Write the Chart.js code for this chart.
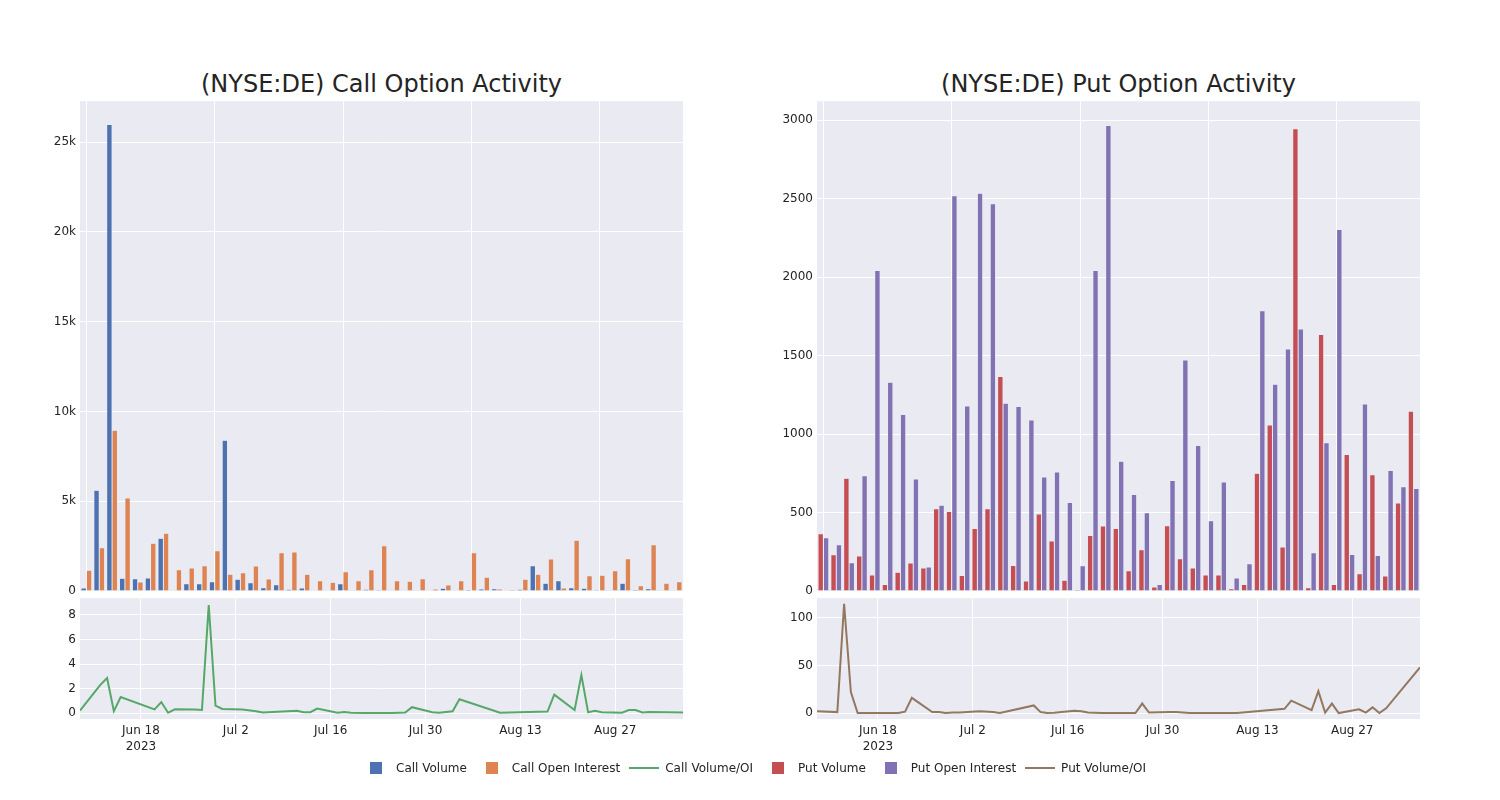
<!DOCTYPE html>
<html>
<head>
<meta charset="utf-8">
<script src="https://cdn.jsdelivr.net/npm/chart.js@4.4.0/dist/chart.umd.min.js"></script>
<style>
  body { margin: 0; background: #fff; width: 1500px; height: 800px; position: relative; overflow: hidden;
         font-family: "DejaVu Sans", sans-serif; color: rgb(36,36,36); }
  canvas { position: absolute; }
  .title { position: absolute; top: 69px; width: 603px; height: 30px; line-height: 30px; font-size: 24px; text-align: center; }
  #legend { position: absolute; left: 356px; top: 760px; height: 16px; display: flex; font-size: 12px; line-height: 16px; }
  .item { display: flex; align-items: center; margin-right: 5px; white-space: nowrap; }
  .mark { width: 40px; height: 16px; position: relative; }
  .mark .box { position: absolute; left: 14px; top: 2px; width: 12px; height: 12px; }
  .mark .line { position: absolute; left: 4px; top: 7px; width: 30px; height: 2px; }
</style>
</head>
<body>
<div class="title" style="left:80px">(NYSE:DE) Call Option Activity</div>
<div class="title" style="left:817px">(NYSE:DE) Put Option Activity</div>
<canvas id="callBars" width="683" height="513" style="left:0;top:90px"></canvas>
<canvas id="callRatioChart" width="683" height="177" style="left:0;top:587px"></canvas>
<canvas id="putBars" width="683" height="513" style="left:737px;top:90px"></canvas>
<canvas id="putRatioChart" width="683" height="177" style="left:737px;top:587px"></canvas>
<div id="legend"></div>
<script>
// trading days in the data
var dates = ['2023-06-09','2023-06-12','2023-06-13','2023-06-14','2023-06-15','2023-06-20','2023-06-21','2023-06-22',
  '2023-06-23','2023-06-26','2023-06-27','2023-06-28','2023-06-29','2023-06-30','2023-07-03','2023-07-05','2023-07-06',
  '2023-07-11','2023-07-12','2023-07-13','2023-07-14','2023-07-17','2023-07-18','2023-07-19','2023-07-21','2023-07-25',
  '2023-07-26','2023-07-27','2023-07-28','2023-07-31','2023-08-01','2023-08-03','2023-08-04','2023-08-10','2023-08-17',
  '2023-08-18','2023-08-21','2023-08-22','2023-08-23','2023-08-24','2023-08-25','2023-08-28','2023-08-29','2023-08-30',
  '2023-08-31','2023-09-01','2023-09-06'];

var callVolume = [167,5608,25980,706,687,724,2934,30,408,408,520,8394,650,464,186,353,93,167,37,37,408,19,93,56,0,0,15,0,
  149,37,74,111,130,0,93,1411,427,576,186,149,56,19,427,74,130,37,19];
var callOpenInterest = [1151,2414,8951,5181,501,2656,3213,1188,1281,1411,2247,928,1021,1393,668,2136,2173,928,576,483,1077,
  576,1188,2526,576,539,687,111,334,576,2136,761,111,74,650,928,1783,167,2823,854,873,1133,1801,297,2581,427,520];
var callRatio = [0.2,2.3,2.85,0.15,1.3,0.3,0.9,0.02,0.3,0.28,0.25,8.8,0.6,0.33,0.28,0.15,0.04,0.18,0.06,0.07,0.36,0.03,0.08,
  0.02,0,0,0.02,0.05,0.48,0.06,0.03,0.15,1.12,0.03,0.12,1.5,0.25,3.1,0.06,0.18,0.06,0.03,0.24,0.25,0.05,0.09,0.04];

var putVolume = [365,231,719,223,102,42,119,178,146,524,507,98,399,524,1366,163,64,490,318,68,8,354,414,399,129,263,25,416,
  206,146,102,102,15,42,751,1058,280,2945,21,1635,42,870,110,740,95,560,1145];
var putOpenInterest = [339,295,180,734,2043,1330,1124,713,153,547,2518,1179,2535,2468,1196,1175,1090,727,759,564,161,2043,
  2966,827,615,498,42,704,1472,927,448,694,83,174,1786,1317,1542,1670,244,944,2304,233,1192,227,768,664,653];
var putRatio = [2,1,115,22,0,0,0,1.5,16,1,1,0,0.5,0.5,2,1,0,8,1,0,0.3,2.5,2,0.5,0,0,0,10,0.5,1,1,0,0,0,4.5,13,3,23,0.5,10,
  0,4,0.5,6,0,5,48];

// tick labels
var xTickDates = ['2023-06-18','2023-07-02','2023-07-16','2023-07-30','2023-08-13','2023-08-27'];
var xTickLabels = [['Jun 18','2023'],'Jul 2','Jul 16','Jul 30','Aug 13','Aug 27'];
var callBarTicks = [0,5000,10000,15000,20000,25000];
var callRatioTicks = [0,2,4,6,8];
var putBarTicks = [0,500,1000,1500,2000,2500,3000];
var putRatioTicks = [0,50,100];

var colors = { callVol: '#4C72B0', callOI: '#DD8452', callRatio: '#55A868', putVol: '#C44E52', putOI: '#8172B3', putRatio: '#937860' };
var textColor = 'rgb(36,36,36)';

Chart.defaults.font.family = '"DejaVu Sans", sans-serif';
Chart.defaults.font.size = 12;
Chart.defaults.color = textColor;

function dayOf(d) { return (Date.parse(d) - Date.parse(dates[0])) / 86400000; }
var days = dates.map(dayOf);

var plotBg = {
  id: 'plotBg',
  beforeDraw: function (chart) {
    var a = chart.chartArea, ctx = chart.ctx;
    ctx.save();
    ctx.fillStyle = '#EAEAF2';
    ctx.fillRect(a.left, a.top, a.right - a.left, a.bottom - a.top);
    ctx.restore();
  }
};

function yAxis(min, max, ticks, fmt) {
  return {
    min: min, max: max,
    afterFit: function (s) { s.width = 80; },
    afterBuildTicks: function (s) { s.ticks = ticks.map(function (v) { return { value: v }; }); },
    ticks: { padding: 4, callback: fmt },
    grid: { color: '#fff', lineWidth: 1, drawTicks: false },
    border: { display: false }
  };
}

function barChart(id, labels, sets, yMax, ticks, fmt) {
  new Chart(document.getElementById(id), {
    type: 'bar',
    data: { labels: labels, datasets: sets.map(function (s) {
      return { label: s.label, data: s.data, backgroundColor: s.color, borderColor: '#EAEAF2', borderWidth: 0.5,
               categoryPercentage: 0.84, barPercentage: 1.0 };
    }) },
    options: {
      responsive: false, animation: false,
      layout: { padding: { top: 10 } },
      plugins: { legend: { display: false }, tooltip: { enabled: false } },
      scales: {
        x: {
          afterFit: function (s) { s.height = 12; },
          afterBuildTicks: function (s) { s.ticks = s.ticks.filter(function (t, i) { return i % 10 === 0; }); },
          ticks: { display: false },
          grid: { color: '#fff', offset: false, drawTicks: false },
          border: { display: false }
        },
        y: yAxis(0, yMax, ticks, fmt)
      }
    },
    plugins: [plotBg]
  });
}

function ratioChart(id, label, values, color, yMin, yMax, ticks) {
  new Chart(document.getElementById(id), {
    type: 'line',
    data: { datasets: [{ label: label, data: days.map(function (x, i) { return { x: x, y: values[i] }; }),
      borderColor: color, backgroundColor: color, borderWidth: 2, pointRadius: 0, tension: 0 }] },
    options: {
      responsive: false, animation: false,
      layout: { padding: { top: 10 } },
      plugins: { legend: { display: false }, tooltip: { enabled: false } },
      scales: {
        x: {
          type: 'linear', min: 0, max: days[days.length - 1],
          afterFit: function (s) { s.height = 45; },
          afterBuildTicks: function (s) { s.ticks = xTickDates.map(function (d) { return { value: dayOf(d) }; }); },
          ticks: { padding: 4, autoSkip: false, maxRotation: 0, font: { lineHeight: 1.35 },
                   callback: function (v, i) { return xTickLabels[i]; } },
          grid: { color: '#fff', drawTicks: false },
          border: { display: false }
        },
        y: yAxis(yMin, yMax, ticks, function (v) { return String(v); })
      }
    },
    plugins: [plotBg]
  });
}

barChart('callBars', dates, [
  { label: 'Call Volume', data: callVolume, color: colors.callVol },
  { label: 'Call Open Interest', data: callOpenInterest, color: colors.callOI }
], 27280, callBarTicks, function (v) { return v === 0 ? '0' : (v / 1000) + 'k'; });

barChart('putBars', dates, [
  { label: 'Put Volume', data: putVolume, color: colors.putVol },
  { label: 'Put Open Interest', data: putOpenInterest, color: colors.putOI }
], 3121, putBarTicks, function (v) { return String(v); });

ratioChart('callRatioChart', 'Call Volume/OI', callRatio, colors.callRatio, -0.485, 9.37, callRatioTicks);
ratioChart('putRatioChart', 'Put Volume/OI', putRatio, colors.putRatio, -6.25, 120.8, putRatioTicks);

// legend
var legendItems = [
  { label: 'Call Volume', color: colors.callVol, kind: 'box' },
  { label: 'Call Open Interest', color: colors.callOI, kind: 'box' },
  { label: 'Call Volume/OI', color: colors.callRatio, kind: 'line' },
  { label: 'Put Volume', color: colors.putVol, kind: 'box' },
  { label: 'Put Open Interest', color: colors.putOI, kind: 'box' },
  { label: 'Put Volume/OI', color: colors.putRatio, kind: 'line' }
];
var legend = document.getElementById('legend');
legendItems.forEach(function (it) {
  var item = document.createElement('div');
  item.className = 'item';
  item.innerHTML = '<div class="mark"><div class="' + it.kind + '" style="background:' + it.color + '"></div></div><span>' + it.label + '</span>';
  legend.appendChild(item);
});
</script>
</body>
</html>
